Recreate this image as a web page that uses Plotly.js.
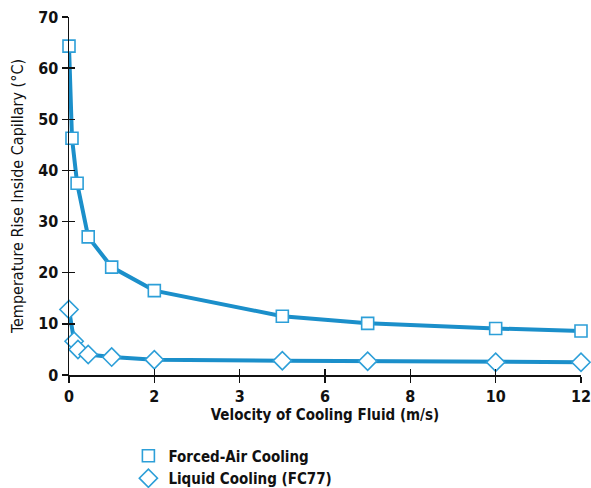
<!DOCTYPE html>
<html><head><meta charset="utf-8">
<script src="https://cdn.plot.ly/plotly-3.0.1.min.js"></script>
<style>body{margin:0;background:#fff}#c{width:591px;height:488px}</style>
</head><body><div id="c"></div>
<script>
const airX = [0, 0.07, 0.19, 0.45, 1.0, 2.0, 5.0, 7.0, 10.0, 12.0];
const airY = [64.3, 46.3, 37.5, 27.0, 21.1, 16.5, 11.5, 10.1, 9.1, 8.6];
const liqX = [0, 0.12, 0.21, 0.45, 1.0, 2.0, 5.0, 7.0, 10.0, 12.0];
const liqY = [12.8, 6.6, 5.0, 4.0, 3.5, 3.0, 2.8, 2.7, 2.5, 2.5];
const xTickVals = [0, 2, 4, 6, 8, 10, 12];
const xTickText = ['0', '2', '3', '6', '8', '10', '12'];
const yTickVals = [0, 10, 20, 30, 40, 50, 60, 70];

const lineC = '#1b8fca';
const mkC = '#2d9fd8';
const fam = '"DejaVu Sans Condensed", "Liberation Sans Narrow", "Liberation Sans", sans-serif';

function lineTrace(x, y) {
  return {x: x, y: y, mode: 'lines', showlegend: false, cliponaxis: false,
          line: {color: lineC, width: 4}, hoverinfo: 'skip'};
}
function markTrace(x, y, name, sym, size) {
  return {x: x, y: y, name: name, mode: 'markers', cliponaxis: false,
          marker: {symbol: sym, size: size, color: '#ffffff', line: {color: mkC, width: 1.6}}};
}

const traces = [
  lineTrace(airX, airY),
  lineTrace(liqX, liqY),
  markTrace(airX, airY, 'Forced-Air Cooling', 'square', 12),
  markTrace(liqX, liqY, 'Liquid Cooling (FC77)', 'diamond', 14),
  {x: [0], y: [0], xaxis: 'x2', yaxis: 'y2', showlegend: false, mode: 'markers',
   marker: {opacity: 0}, hoverinfo: 'skip'}
];

const layout = {
  width: 591, height: 488,
  margin: {l: 69, r: 10, t: 17, b: 113, autoexpand: false},
  paper_bgcolor: '#fff', plot_bgcolor: '#fff',
  font: {family: fam, color: '#111', size: 16},
  showlegend: true,
  legend: {orientation: 'v', x: 0.116, xanchor: 'left', y: -0.18, yanchor: 'top',
           font: {family: fam, size: 15, color: '#111', weight: 'bold'},
           itemwidth: 30, tracegroupgap: 0, bgcolor: 'rgba(0,0,0,0)'},
  xaxis: {range: [0, 12], tickvals: xTickVals, ticktext: xTickText, automargin: false,
          ticklabeloverflow: 'allow',
          showgrid: false, zeroline: false, showline: true, linecolor: '#111', linewidth: 1.5,
          ticks: 'outside', ticklen: 6, tickwidth: 1.5, tickcolor: '#111',
          tickfont: {family: fam, size: 16, weight: 'bold'},
          title: {text: 'Velocity of Cooling Fluid (m/s)', standoff: 4,
                  font: {family: fam, size: 15, weight: 'bold'}}},
  yaxis: {range: [0, 70], tickvals: yTickVals, automargin: false,
          ticklabeloverflow: 'allow',
          showgrid: false, zeroline: false, showline: true, linecolor: '#111', linewidth: 1.5,
          ticks: 'outside', ticklen: 6, tickwidth: 1.5, tickcolor: '#111',
          tickfont: {family: fam, size: 16, weight: 'bold'},
          title: {text: 'Temperature Rise Inside Capillary (°C)', standoff: 10,
                  font: {family: fam, size: 16}}},
  xaxis2: {range: [0, 12], tickvals: xTickVals, overlaying: 'x', showticklabels: false,
           showgrid: false, zeroline: false, showline: false,
           ticks: 'inside', ticklen: 6, tickwidth: 1.5, tickcolor: '#111'},
  yaxis2: {range: [0, 70], tickvals: yTickVals, overlaying: 'y', showticklabels: false,
           showgrid: false, zeroline: false, showline: false,
           ticks: 'inside', ticklen: 6, tickwidth: 1.5, tickcolor: '#111'}
};
Plotly.newPlot('c', traces, layout, {displayModeBar: false, staticPlot: true});
</script></body></html>
